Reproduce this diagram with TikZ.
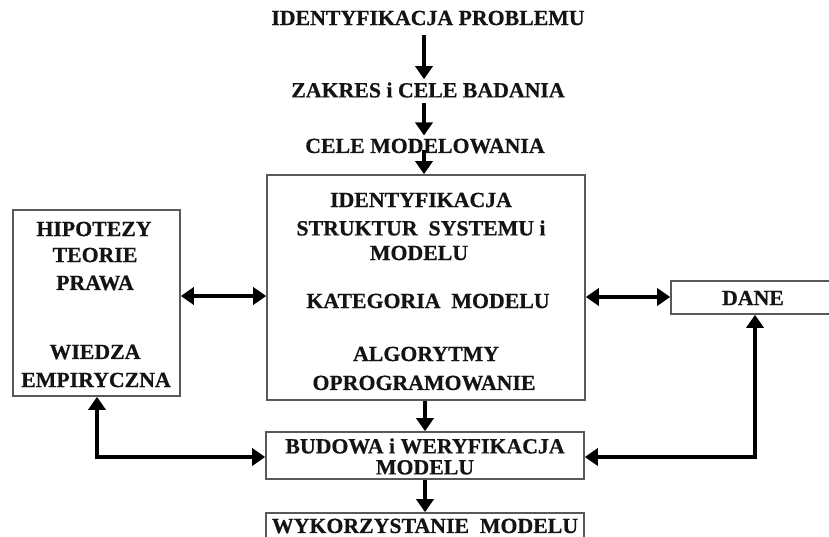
\documentclass[tikz,border=0pt]{standalone}
\usepackage{fontspec}
\setmainfont{Liberation Serif}[FakeStretch=1.01, BoldFeatures={FakeBold=0.6}]
\usetikzlibrary{arrows.meta}
\begin{document}
\begin{tikzpicture}[x=1pt,y=-1pt,
  box/.style={draw=black!65, line width=1.6pt, fill=white, inner sep=0pt},
  lbl/.style={font=\fontsize{21.6}{21.6}\selectfont\bfseries, text=black!92, inner sep=2pt},
  tip/.tip={Triangle[length=13pt,width=17pt]},
  arr/.style={line width=4.5pt, -tip},
  darr/.style={line width=4.5pt, tip-tip},
]
\useasboundingbox (0,0) rectangle (829,537);

% top chain
\node[lbl] (t1) at (428,18) {IDENTYFIKACJA PROBLEMU};
\node[lbl] (t2) at (428,90) {ZAKRES i CELE BADANIA};
\node[lbl] (t3) at (425,146) {CELE MODELOWANIA};

% main box
\node[box, minimum width=318pt, minimum height=225pt] (main) at (426,287.5) {};
\node[lbl] (m1) at (421,200) {IDENTYFIKACJA};
\node[lbl] (m2) at (421,228) {STRUKTUR\ \ SYSTEMU i};
\node[lbl] (m3) at (419,253) {MODELU};
\node[lbl] (m4) at (428,301) {KATEGORIA\ \ MODELU};
\node[lbl] (m5) at (426,354) {ALGORYTMY};
\node[lbl] (m6) at (424,383) {OPROGRAMOWANIE};

% left box
\node[box, minimum width=167pt, minimum height=186pt] (left) at (96.5,303) {};
\node[lbl] (l1) at (94,229) {HIPOTEZY};
\node[lbl] (l2) at (95,255) {TEORIE};
\node[lbl] (l3) at (95,283) {PRAWA};
\node[lbl] (l4) at (95,352) {WIEDZA};
\node[lbl] (l5) at (96,380) {EMPIRYCZNA};

% DANE box
\node[box, minimum width=164pt, minimum height=33pt] (dane) at (753,297.5) {};
\node[lbl] (dt) at (753,298) {DANE};

% BUDOWA box
\node[box, minimum width=318pt, minimum height=47pt] (bud) at (425,455.5) {};
\node[lbl, align=center, inner sep=0pt, font=\fontsize{21.6}{21}\selectfont\bfseries] (bt) at (425,456.5) {BUDOWA i WERYFIKACJA\\MODELU};

% WYKORZYSTANIE box
\node[box, minimum width=318pt, minimum height=40pt] (wyk) at (425,533) {};
\node[lbl] (wt) at (425,526) {WYKORZYSTANIE\ \ MODELU};

% coordinates for connector bends
\coordinate (cl) at (97,457);
\coordinate (cr) at (755,457);

% vertical arrows
\draw[arr] ([yshift=-8pt]t1.south -| 424,0) -- ([yshift=1pt]t2.north -| 424,0);
\draw[arr] ([yshift=-3pt]t2.south -| 424,0) -- ([yshift=1pt]t3.north -| 424,0);
\draw[arr] ([yshift=-4pt]t3.center -| 424,0) -- (main.north -| 424,0);
\draw[arr] (main.south -| 425,0) -- (bud.north -| 425,0);
\draw[arr] (bud.south -| 425,0) -- (wyk.north -| 425,0);

% horizontal double arrows
\draw[darr] (left.east |- 0,296) -- (main.west |- 0,296);
\draw[darr] (main.east |- 0,297) -- (dane.west |- 0,297);

% bottom connectors
\draw[darr] (left.south -| cl) -- (cl) -- (bud.west |- cl);
\draw[darr] (dane.south -| cr) -- (cr) -- (bud.east |- cr);
\end{tikzpicture}
\end{document}
